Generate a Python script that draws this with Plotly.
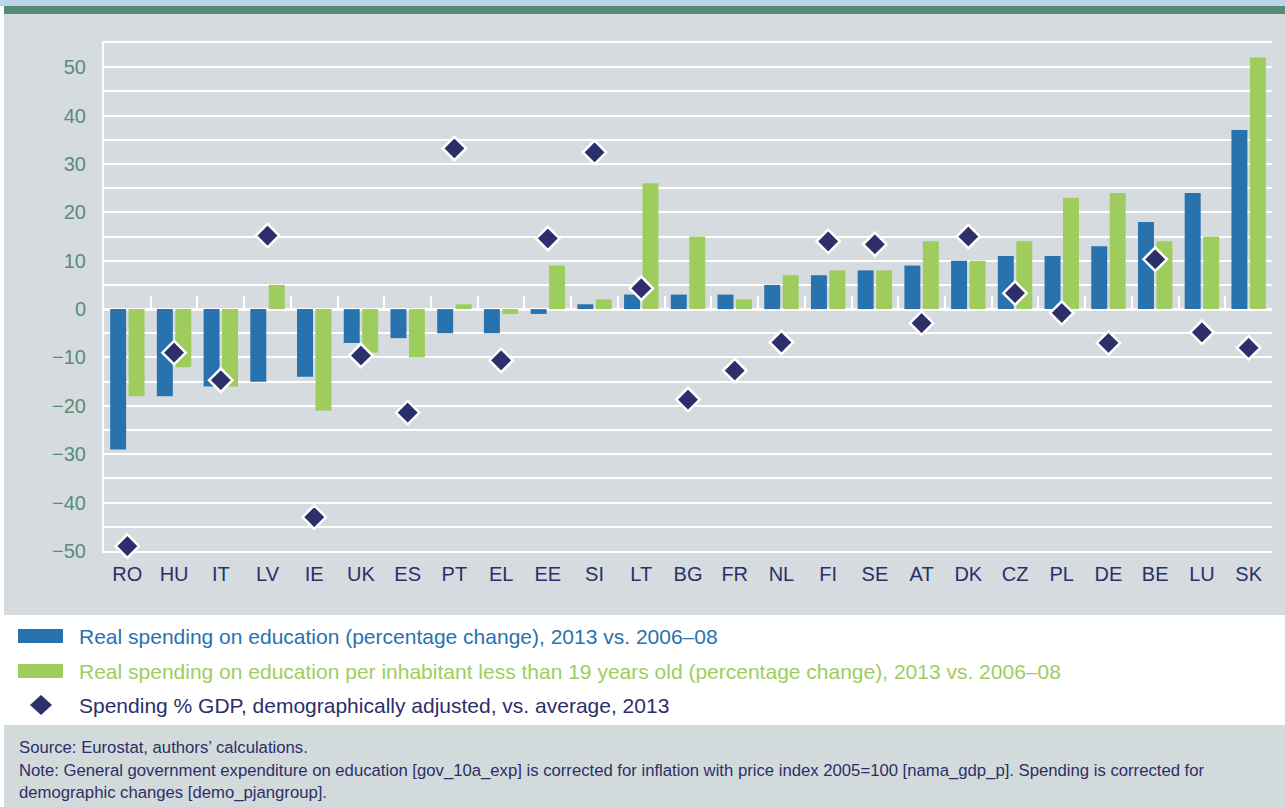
import plotly.graph_objects as go

countries = ["RO", "HU", "IT", "LV", "IE", "UK", "ES", "PT", "EL", "EE", "SI", "LT", "BG",
             "FR", "NL", "FI", "SE", "AT", "DK", "CZ", "PL", "DE", "BE", "LU", "SK"]
real_spending = [-29, -18, -16, -15, -14, -7, -6, -5, -5, -1, 1, 3, 3,
                 3, 5, 7, 8, 9, 10, 11, 11, 13, 18, 24, 37]
per_inhabitant = [-18, -12, -16, 5, -21, -9, -10, 1, -1, 9, 2, 26, 15,
                  2, 7, 8, 8, 14, 10, 14, 23, 24, 14, 15, 52]
gdp_adjusted = [-49, -9.0, -14.7, 15.2, -43, -9.6, -21.4, 33.2, -10.6, 14.6, 32.4, 4.3, -18.7,
                -12.7, -6.9, 14.0, 13.4, -2.9, 15.0, 3.3, -0.8, -7.0, 10.3, -4.8, -8.0]
y_ticks = [-50, -40, -30, -20, -10, 0, 10, 20, 30, 40, 50]
y_tick_text = ["\u221250", "\u221240", "\u221230", "\u221220", "\u221210", "0", "10", "20", "30", "40", "50"]

legend_labels = [
    "Real spending on education (percentage change), 2013 vs. 2006\u201308",
    "Real spending on education per inhabitant less than 19 years old (percentage change), 2013 vs. 2006\u201308",
    "Spending % GDP, demographically adjusted, vs. average, 2013",
]
footer_lines = [
    "Source: Eurostat, authors\u2019 calculations.",
    "Note: General government expenditure on education [gov_10a_exp] is corrected for inflation with price index 2005=100 [nama_gdp_p]. Spending is corrected for",
    "demographic changes [demo_pjangroup].",
]

BLUE = "#2872ae"
GREEN = "#9ecd5e"
NAVY = "#2c2f69"
TEAL = "#5b8c7a"
PANEL = "#d6dbdf"
FONT = "Liberation Sans"

W, H = 1285, 807
L, R, T, B = 104, 1272, 43, 551


def px(x):
    return (x - L) / (R - L)


def py(y):
    return (B - y) / (B - T)


fig = go.Figure()
fig.add_trace(go.Bar(x=countries, y=real_spending, marker=dict(color=BLUE, line=dict(width=0)),
                     name=legend_labels[0], showlegend=False))
fig.add_trace(go.Bar(x=countries, y=per_inhabitant, marker=dict(color=GREEN, line=dict(width=0)),
                     name=legend_labels[1], showlegend=False))
fig.add_trace(go.Scatter(x=countries, y=gdp_adjusted, mode="markers", cliponaxis=False,
                         marker=dict(symbol="diamond", size=18, color=NAVY,
                                     line=dict(color="white", width=2.5)),
                         name=legend_labels[2], showlegend=False))
# invisible trace for the tick-mark axis on the zero line
n = len(countries)
fig.add_trace(go.Scatter(x=[-0.5, n - 0.5], y=[0, 0], xaxis="x2", mode="lines",
                         line=dict(width=0), hoverinfo="skip", showlegend=False))

shapes = []
# top bands and panel
shapes.append(dict(type="rect", xref="paper", yref="paper", x0=px(0), x1=px(W), y0=py(0), y1=py(6),
                   fillcolor="#bed4e8", line=dict(width=0), layer="below"))
shapes.append(dict(type="rect", xref="paper", yref="paper", x0=px(4), x1=px(W), y0=py(6), y1=py(14),
                   fillcolor="#558a76", line=dict(width=0), layer="below"))
shapes.append(dict(type="rect", xref="paper", yref="paper", x0=px(4), x1=px(W), y0=py(14), y1=py(615),
                   fillcolor=PANEL, line=dict(width=0), layer="below"))
shapes.append(dict(type="rect", xref="paper", yref="paper", x0=px(4), x1=px(W), y0=py(725), y1=py(H),
                   fillcolor="#d3dadb", line=dict(width=0), layer="below"))
# legend symbols
shapes.append(dict(type="rect", xref="paper", yref="paper", x0=px(18), x1=px(63), y0=py(629), y1=py(643),
                   fillcolor=BLUE, line=dict(width=0)))
shapes.append(dict(type="rect", xref="paper", yref="paper", x0=px(18), x1=px(63), y0=py(664), y1=py(678),
                   fillcolor=GREEN, line=dict(width=0)))
cx, cy, hw, hh = 41, 705, 11, 10
shapes.append(dict(type="path", xref="paper", yref="paper",
                   path=f"M{px(cx - hw)},{py(cy)} L{px(cx)},{py(cy - hh)} L{px(cx + hw)},{py(cy)} L{px(cx)},{py(cy + hh)} Z",
                   fillcolor=NAVY, line=dict(width=0)))

annotations = []
legend_colors = [BLUE, GREEN, NAVY]
legend_y = [636, 671, 705]
for lab, col, yy in zip(legend_labels, legend_colors, legend_y):
    annotations.append(dict(text=lab, xref="paper", yref="paper", x=px(77), y=py(yy),
                            xanchor="left", yanchor="middle", showarrow=False,
                            font=dict(family=FONT, size=21, color=col)))
footer_y = [747, 770, 792]
for line, yy in zip(footer_lines, footer_y):
    annotations.append(dict(text=line, xref="paper", yref="paper", x=px(17), y=py(yy),
                            xanchor="left", yanchor="middle", showarrow=False,
                            font=dict(family=FONT, size=16.7, color=NAVY)))

fig.update_layout(
    width=W, height=H,
    margin=dict(l=L, r=W - R, t=T, b=H - B, pad=0),
    paper_bgcolor="white", plot_bgcolor="rgba(0,0,0,0)",
    barmode="group", bargap=0.21, bargroupgap=0.135,
    font=dict(family=FONT),
    showlegend=False,
    shapes=shapes, annotations=annotations,
    xaxis=dict(type="category", categoryorder="array", categoryarray=countries,
               range=[-0.5, n - 0.5], autorange=False, layer="below traces",
               showgrid=False, zeroline=False,
               showline=True, mirror=True, linecolor="white", linewidth=1.5,
               ticks="outside", ticklen=4, tickcolor="rgba(0,0,0,0)",
               tickfont=dict(family=FONT, size=20, color=NAVY)),
    xaxis2=dict(overlaying="x", anchor="free", position=50 / 105, side="bottom",
                range=[-0.5, n - 0.5], autorange=False, tickmode="array",
                layer="below traces",
                tickvals=[i - 0.5 for i in range(n + 1)],
                ticks="inside", ticklen=13, tickwidth=2, tickcolor="white",
                showticklabels=False, showgrid=False, zeroline=False, showline=False),
    yaxis=dict(range=[-50, 55], autorange=False, tickmode="array", tickvals=y_ticks, ticktext=y_tick_text,
               layer="below traces",
               showgrid=True, gridcolor="white", gridwidth=1.5,
               minor=dict(dtick=5, tick0=0, showgrid=True, gridcolor="white", gridwidth=1.5),
               zeroline=True, zerolinecolor="white", zerolinewidth=2.5,
               showline=True, linecolor="white", linewidth=2,
               ticks="outside", ticklen=12, tickcolor="rgba(0,0,0,0)",
               tickfont=dict(family=FONT, size=20, color=TEAL)),
)

fig.write_html("out.html", config={"displayModeBar": False},
               post_script="document.body.style.margin='0';document.body.style.overflow='hidden';")
